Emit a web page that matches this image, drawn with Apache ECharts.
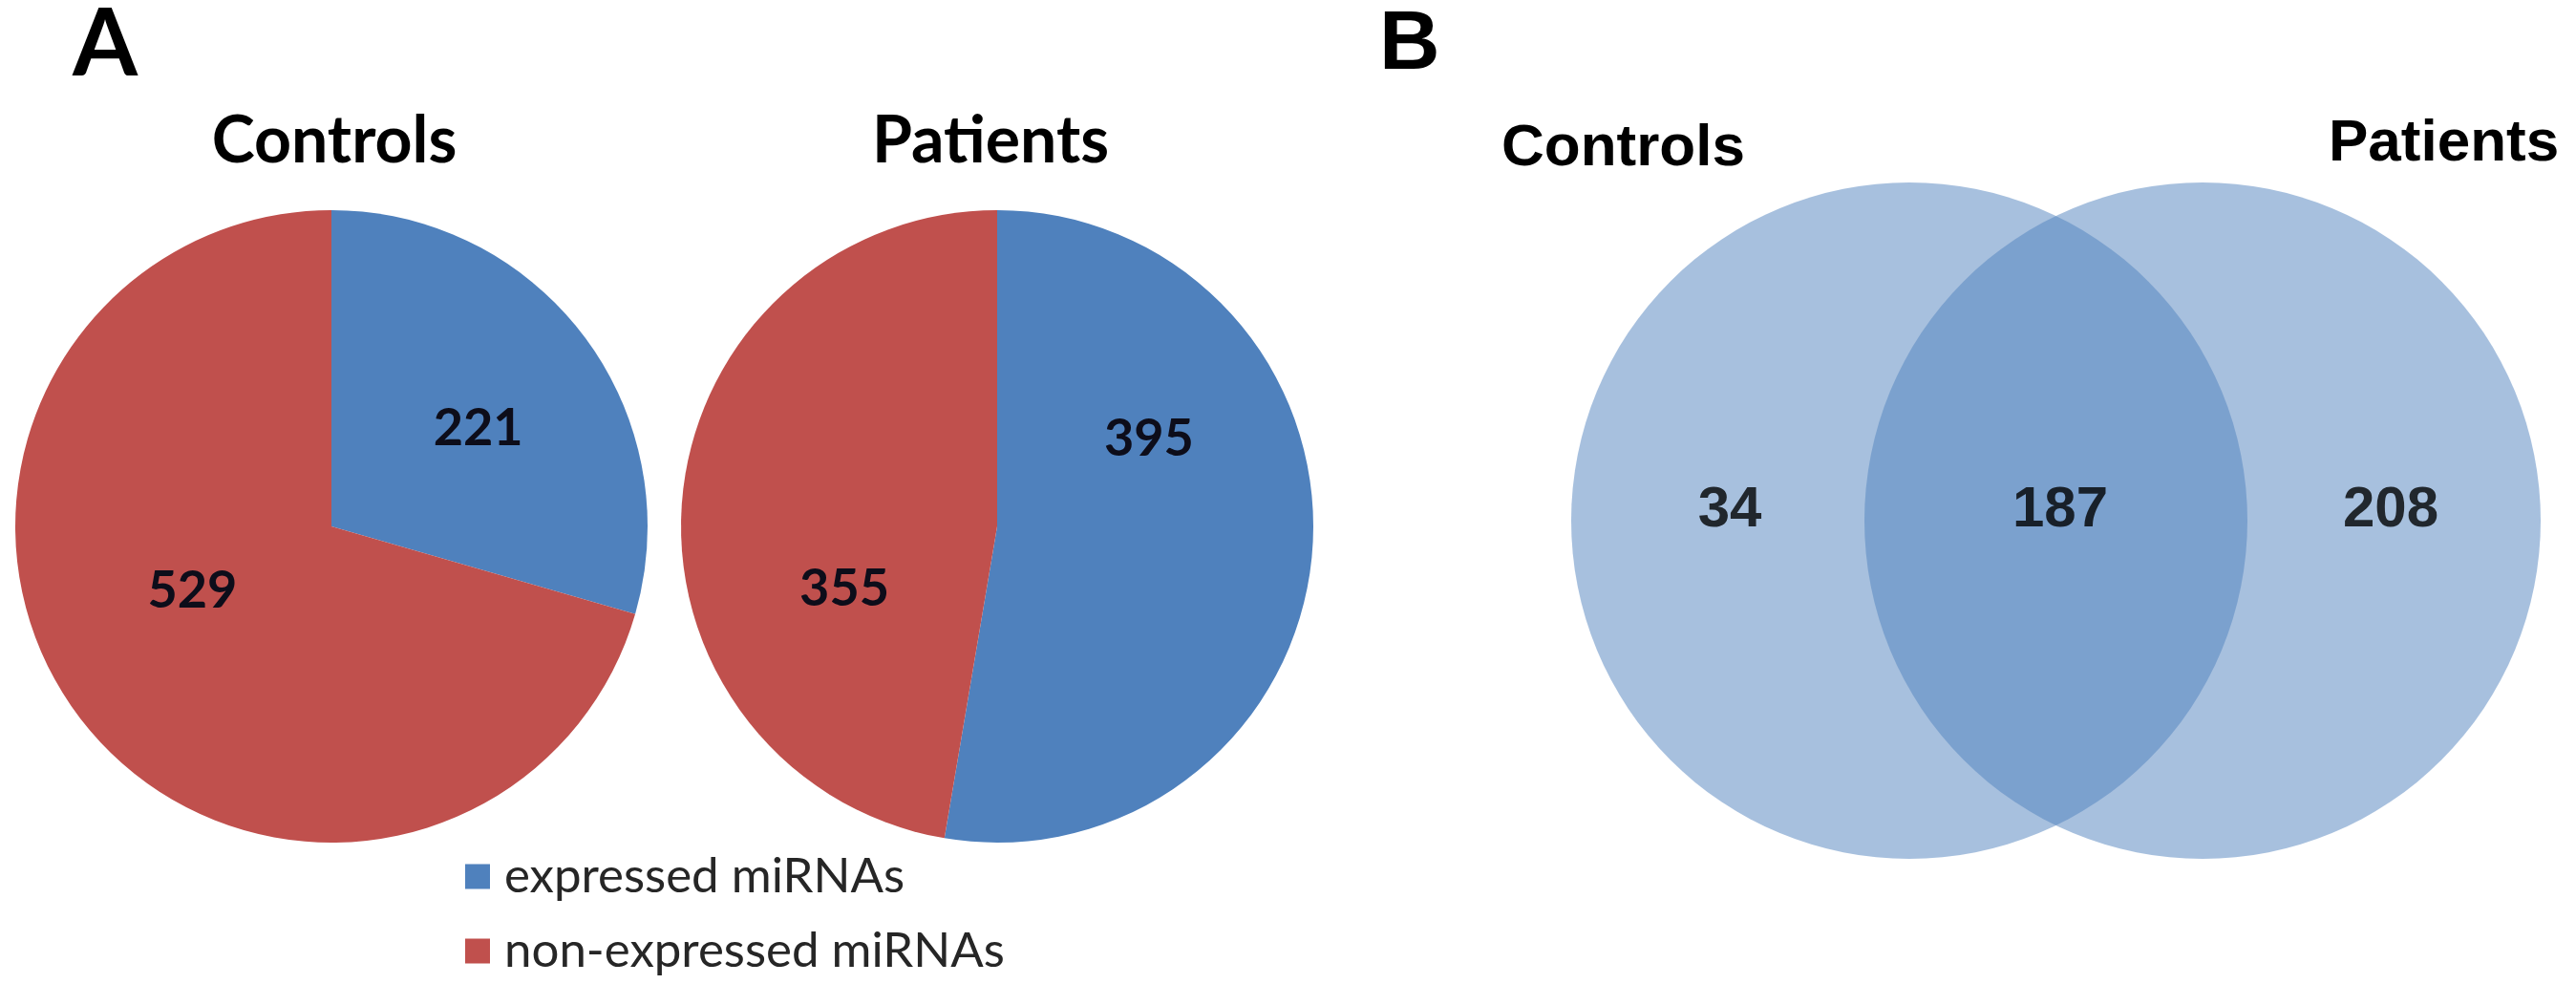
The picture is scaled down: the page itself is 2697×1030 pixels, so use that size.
<!DOCTYPE html>
<html>
<head>
<meta charset="utf-8">
<script src="https://cdn.jsdelivr.net/npm/echarts@6/dist/echarts.min.js"></script>
<style>
html,body{margin:0;padding:0;background:#fff;}
#chart{width:2697px;height:1030px;}
</style>
</head>
<body>
<div id="chart"></div>
<script>
// ---- data ----
const pieCategories = ['expressed miRNAs', 'non-expressed miRNAs'];
const controlsValues = [221, 529];
const patientsValues = [395, 355];
const vennSets = ['Controls', 'Patients'];
const vennSetTotals = [221, 395];
const vennRegions = ['Controls only', 'Both', 'Patients only'];
const vennCounts = [34, 187, 208];

// ---- styles ----
const pieColors = ['#4f81bd', '#c0504d'];
const vennFill = 'rgba(79,129,189,0.5)';
const calibriLike = 'Lato, "Open Sans", sans-serif';
const arialLike = '"Liberation Sans", Arial, sans-serif';
// label nudges (px) to mimic the original spreadsheet label placement
const controlsLabelNudge = [[19, -1], [-11, -34]];
const patientsLabelNudge = [[-9, -106], [8, 80]];

const chart = echarts.init(document.getElementById('chart'), null, {renderer: 'canvas'});

function pieSeries(name, values, center, nudges) {
  return {
    name: name,
    type: 'pie',
    center: center,
    radius: 331,
    startAngle: 90,
    clockwise: true,
    avoidLabelOverlap: false,
    silent: true,
    itemStyle: {borderWidth: 0},
    label: {
      show: true,
      position: 'inner',
      formatter: '{c}',
      fontFamily: calibriLike,
      fontWeight: 'bold',
      fontSize: 54,
      color: '#0d0d1a'
    },
    labelLine: {show: false},
    emphasis: {disabled: true},
    data: pieCategories.map((c, i) => ({
      name: c,
      value: values[i],
      itemStyle: {color: pieColors[i]},
      label: {offset: nudges[i]}
    }))
  };
}

function vennCircle(idx, center) {
  return {
    name: vennSets[idx],
    type: 'pie',
    center: center,
    radius: 354,
    silent: true,
    label: {show: false},
    labelLine: {show: false},
    emphasis: {disabled: true},
    itemStyle: {color: vennFill, borderWidth: 0},
    data: [{name: vennSets[idx], value: vennSetTotals[idx]}]
  };
}

const option = {
  backgroundColor: '#ffffff',
  animation: false,
  title: [
    {text: 'A', left: 76, top: -2, padding: 0, textStyle: {fontFamily: calibriLike, fontWeight: 'bold', fontSize: 98, color: '#000'}},
    {text: 'Controls', left: 350, textAlign: 'center', top: 114, padding: 0, textStyle: {fontFamily: calibriLike, fontWeight: 'bold', fontSize: 68, color: '#000'}},
    {text: 'Patients', left: 1037, textAlign: 'center', top: 114, padding: 0, textStyle: {fontFamily: calibriLike, fontWeight: 'bold', fontSize: 68, color: '#000'}},
    {text: 'B', left: 1444, top: 4, padding: 0, textStyle: {fontFamily: arialLike, fontWeight: 'bold', fontSize: 88, color: '#000'}},
    {text: 'Controls', left: 1572, top: 125, padding: 0, textStyle: {fontFamily: arialLike, fontWeight: 'bold', fontSize: 62, color: '#000'}},
    {text: 'Patients', left: 2438, top: 120, padding: 0, textStyle: {fontFamily: arialLike, fontWeight: 'bold', fontSize: 62, color: '#000'}}
  ],
  legend: {
    data: pieCategories,
    orient: 'vertical',
    left: 487,
    top: 892,
    padding: 0,
    icon: 'rect',
    itemWidth: 26,
    itemHeight: 26,
    itemGap: 27,
    selectedMode: false,
    textStyle: {fontFamily: calibriLike, fontSize: 51, color: '#262626', padding: [0, 0, 0, 10]}
  },
  grid: {left: 1638, width: 1038, top: 484, height: 100},
  xAxis: {type: 'category', data: vennRegions, show: false},
  yAxis: {type: 'category', data: ['count'], show: false},
  series: [
    pieSeries('Controls', controlsValues, [347, 551], controlsLabelNudge),
    pieSeries('Patients', patientsValues, [1044, 551], patientsLabelNudge),
    vennCircle(0, [1999, 545]),
    vennCircle(1, [2306, 545]),
    {
      name: 'Venn counts',
      type: 'scatter',
      symbolSize: 1,
      silent: true,
      itemStyle: {color: 'rgba(0,0,0,0)'},
      label: {
        show: true,
        position: 'inside',
        formatter: p => p.name,
        fontFamily: arialLike,
        fontWeight: 'bold',
        fontSize: 60,
        color: '#000'
      },
      data: vennRegions.map((r, i) => ({value: [r, 'count'], name: String(vennCounts[i])}))
    }
  ]
};
chart.setOption(option);
</script>
</body>
</html>
